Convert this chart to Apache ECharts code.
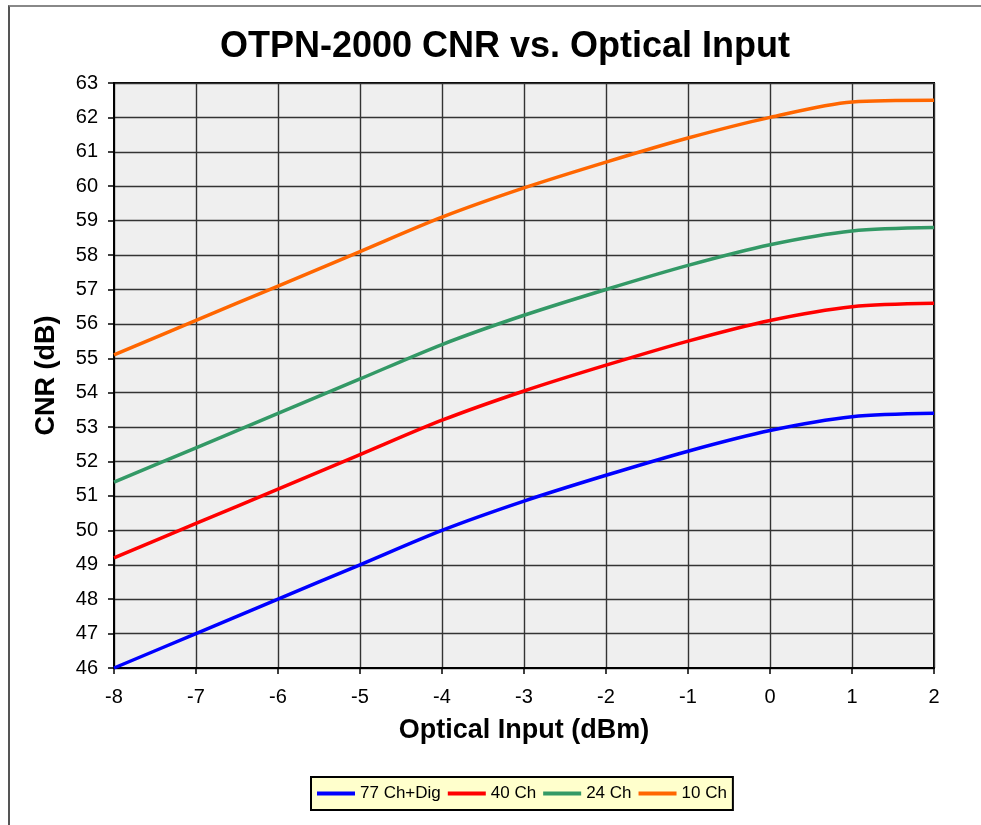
<!DOCTYPE html>
<html>
<head>
<meta charset="utf-8">
<script src="https://cdn.jsdelivr.net/npm/echarts@6/dist/echarts.min.js"></script>
<style>
  html, body { margin: 0; padding: 0; background: #fff; }
  #frame {
    position: absolute; left: 8px; top: 5px; width: 980px; height: 830px;
    border-left: 2px solid #555; border-top: 2px solid #888;
    box-sizing: border-box;
  }
  #chart { position: absolute; left: 0; top: 0; width: 981px; height: 825px; }
</style>
</head>
<body>
<div id="frame"></div>
<div id="chart"></div>
<script>
// optical input (dBm)
const xValues = [-8, -7, -6, -5, -4, -3, -2, -1, 0, 1, 2];
// CNR values (dB)
const ch77 = [46.0, 47.0, 48.0, 49.0, 50.0, 50.85, 51.6, 52.3, 52.9, 53.3, 53.4];
const ch40 = [49.2, 50.2, 51.2, 52.2, 53.2, 54.05, 54.8, 55.5, 56.1, 56.5, 56.6];
const ch24 = [51.4, 52.4, 53.4, 54.4, 55.4, 56.25, 57.0, 57.7, 58.3, 58.7, 58.8];
const ch10 = [55.1, 56.1, 57.1, 58.1, 59.1, 59.95, 60.7, 61.4, 62.0, 62.45, 62.5];

const seriesNames = ['77 Ch+Dig', '40 Ch', '24 Ch', '10 Ch'];
const seriesColors = ['#0000ff', '#ff0000', '#339966', '#ff6600'];
const seriesData = [ch77, ch40, ch24, ch10];

const font = 'Liberation Sans, Arial, sans-serif';
const chart = echarts.init(document.getElementById('chart'));

const option = {
  animation: false,
  title: {
    text: 'OTPN-2000 CNR vs. Optical Input',
    left: 500, top: 24, textAlign: 'center',
    textStyle: { fontFamily: font, fontSize: 36, fontWeight: 'bold', color: '#000' }
  },
  legend: {
    data: seriesNames,
    left: 311, top: 777,
    padding: [8, 6, 8, 6],
    backgroundColor: '#ffffcc',
    borderColor: '#000', borderWidth: 2, borderRadius: 0,
    icon: 'rect', itemWidth: 38, itemHeight: 4, itemGap: 7,
    textStyle: { fontFamily: font, fontSize: 17, color: '#000' }
  },
  grid: { left: 114, right: 47, top: 83, bottom: 157, show: true,
          backgroundColor: '#efefef', borderColor: '#000', borderWidth: 2 },
  xAxis: {
    type: 'value', min: -8, max: 2, interval: 1,
    name: 'Optical Input (dBm)', nameLocation: 'middle', nameGap: 49,
    nameTextStyle: { fontFamily: font, fontSize: 27, fontWeight: 'bold', color: '#000' },
    axisLine: { onZero: false, lineStyle: { color: '#000', width: 2 } },
    axisTick: { show: true, length: 6, lineStyle: { color: '#000', width: 1.5 } },
    axisLabel: { fontFamily: font, fontSize: 20, color: '#000', margin: 19 },
    splitLine: { show: true, lineStyle: { color: '#333', width: 1.4 } }
  },
  yAxis: {
    type: 'value', min: 46, max: 63, interval: 1,
    name: 'CNR (dB)', nameLocation: 'middle', nameGap: 54, nameRotate: 90,
    nameTextStyle: { fontFamily: font, fontSize: 27, fontWeight: 'bold', color: '#000' },
    axisLine: { show: true, onZero: false, lineStyle: { color: '#000', width: 2 } },
    axisTick: { show: true, length: 6, lineStyle: { color: '#000', width: 1.5 } },
    axisLabel: { fontFamily: font, fontSize: 20, color: '#000', margin: 16 },
    splitLine: { show: true, lineStyle: { color: '#333', width: 1.4 } }
  },
  series: seriesNames.map((name, i) => ({
    name: name,
    type: 'line',
    smooth: 0.3,
    symbol: 'none',
    data: xValues.map((x, j) => [x, seriesData[i][j]]),
    lineStyle: { color: seriesColors[i], width: 3.5 },
    itemStyle: { color: seriesColors[i] }
  }))
};

chart.setOption(option);
</script>
</body>
</html>
